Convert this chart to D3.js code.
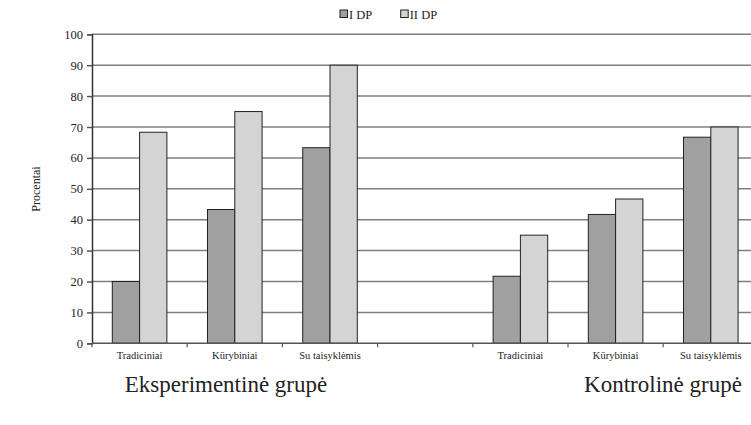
<!DOCTYPE html>
<html>
<head>
<meta charset="utf-8">
<script src="https://cdn.jsdelivr.net/npm/d3@7"></script>
<style>
  html, body { margin: 0; padding: 0; background: #fff; }
  svg { display: block; }
  svg text { font-family: 'Liberation Serif', 'Times New Roman', 'DejaVu Serif', serif; }
</style>
</head>
<body>
<svg id="chart" width="751" height="425"></svg>
<script>
// Category slots along the x axis (the blank slot separates the two groups)
const categories = ["Tradiciniai", "Kūrybiniai", "Su taisyklėmis", "", "Tradiciniai", "Kūrybiniai", "Su taisyklėmis"];
const seriesNames = ["I DP", "II DP"];
const seriesI  = [20, 43.3, 63.3, null, 21.7, 41.7, 66.7];
const seriesII = [68.3, 75, 90, null, 35, 46.7, 70];
const yTicks = [0, 10, 20, 30, 40, 50, 60, 70, 80, 90, 100];
const groupLabels = ["Eksperimentinė grupė", "Kontrolinė grupė"];
const yTitle = "Procentai";

const colors = { "I DP": "#a0a0a0", "II DP": "#d4d4d4" };
const serif = "'Liberation Serif', 'Times New Roman', 'DejaVu Serif', serif";

const svg = d3.select("#chart");
const plotLeft = 92, plotRight = 758.4, plotTop = 34.3, plotBottom = 343.3;

const slots = d3.range(categories.length);
const x = d3.scaleBand().domain(slots).range([plotLeft, plotRight]).paddingInner(0).paddingOuter(0);
const xs = d3.scaleBand().domain(seriesNames).range([0, x.bandwidth()]).paddingInner(0).paddingOuter(0.744);
const y = d3.scaleLinear().domain([0, 100]).range([plotBottom, plotTop]);

// horizontal gridlines
svg.append("g")
  .selectAll("line")
  .data(yTicks.filter(d => d > 0))
  .join("line")
  .attr("x1", plotLeft).attr("x2", plotRight)
  .attr("y1", d => y(d)).attr("y2", d => y(d))
  .attr("stroke", "#7f7f7f").attr("stroke-width", 1.5);

// bars
const rows = slots.map(i => ({ i, values: [
  { s: "I DP", v: seriesI[i] },
  { s: "II DP", v: seriesII[i] }
].filter(d => d.v != null) }));

svg.append("g")
  .selectAll("g")
  .data(rows)
  .join("g")
  .attr("transform", d => `translate(${x(d.i)},0)`)
  .selectAll("rect")
  .data(d => d.values)
  .join("rect")
  .attr("x", d => xs(d.s))
  .attr("width", xs.bandwidth())
  .attr("y", d => y(d.v))
  .attr("height", d => y(0) - y(d.v))
  .attr("fill", d => colors[d.s])
  .attr("stroke", "#222")
  .attr("stroke-width", 1);

// y axis
const yAxis = svg.append("g")
  .attr("transform", `translate(${plotLeft},0)`)
  .call(d3.axisLeft(y).tickValues(yTicks).tickSize(5).tickPadding(4))
  .attr("font-family", serif);
yAxis.select(".domain").attr("stroke", "#333").attr("stroke-width", 1.5);
yAxis.selectAll(".tick line").attr("stroke", "#555").attr("stroke-width", 1.5);
yAxis.selectAll("text").attr("font-size", 12.5).attr("fill", "#222");

// x axis: ticks at slot boundaries, labels centered in slots
const xAxisG = svg.append("g").attr("transform", `translate(0,${plotBottom})`);
xAxisG.append("line")
  .attr("x1", plotLeft).attr("x2", plotRight)
  .attr("stroke", "#555").attr("stroke-width", 1.5);
xAxisG.selectAll("line.tk")
  .data(slots.concat([categories.length]))
  .join("line")
  .attr("class", "tk")
  .attr("x1", d => plotLeft + d * x.step()).attr("x2", d => plotLeft + d * x.step())
  .attr("y1", 0).attr("y2", 4)
  .attr("stroke", "#555").attr("stroke-width", 1.2);
xAxisG.selectAll("text")
  .data(slots)
  .join("text")
  .attr("x", d => x(d) + x.bandwidth() / 2)
  .attr("y", 16)
  .attr("text-anchor", "middle")
  .attr("font-size", 10.5)
  .attr("fill", "#222")
  .text(d => categories[d]);

// y axis title
svg.append("text")
  .attr("transform", "translate(40,189) rotate(-90)")
  .attr("text-anchor", "middle")
  .attr("font-size", 12)
  .attr("fill", "#222")
  .text(yTitle);

// group captions
svg.append("text").attr("x", 226).attr("y", 392).attr("text-anchor", "middle")
  .attr("font-size", 23).attr("fill", "#222").text(groupLabels[0]);
svg.append("text").attr("x", 663).attr("y", 392).attr("text-anchor", "middle")
  .attr("font-size", 23).attr("fill", "#222").text(groupLabels[1]);

// legend
const legend = svg.append("g");
const legendX = [340, 400.7];
seriesNames.forEach((s, k) => {
  const g = legend.append("g").attr("transform", `translate(${legendX[k]},10)`);
  g.append("rect").attr("width", 7.5).attr("height", 7.5)
    .attr("fill", colors[s]).attr("stroke", "#222").attr("stroke-width", 1);
  g.append("text").attr("x", 9).attr("y", 8.5)
    .attr("font-size", 12.5).attr("fill", "#222").text(s);
});
</script>
</body>
</html>
